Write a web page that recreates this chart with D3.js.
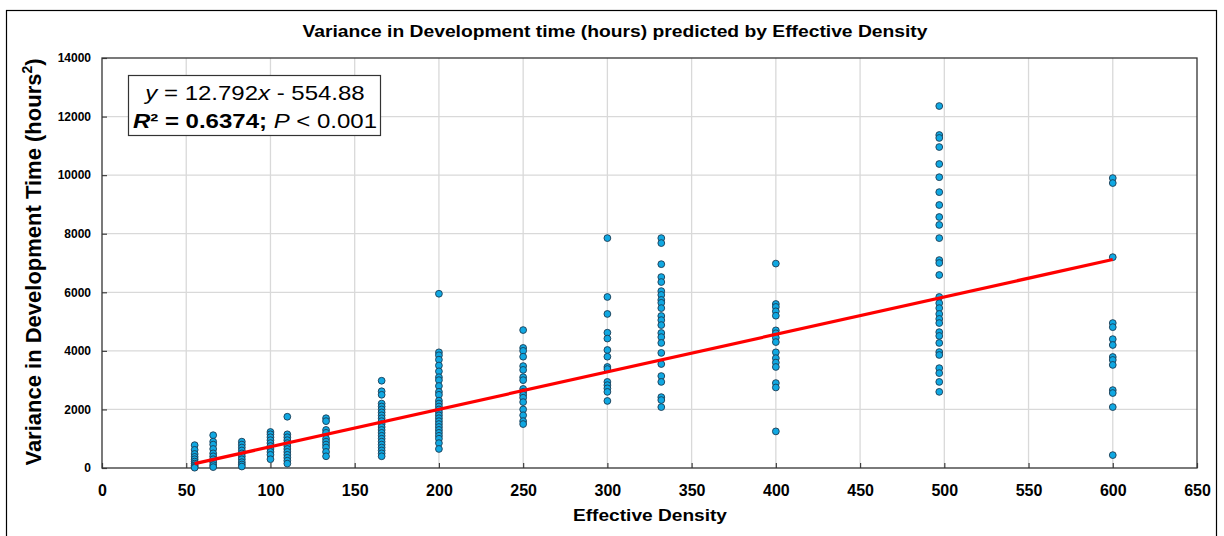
<!DOCTYPE html>
<html>
<head>
<meta charset="utf-8">
<script src="https://cdn.jsdelivr.net/npm/d3@7"></script>
<style>
  html, body { margin: 0; padding: 0; background: #fff; }
  svg { display: block; font-family: "Liberation Sans", Arial, sans-serif; }
</style>
</head>
<body>
<svg id="chart" width="1224" height="536"></svg>
<script>
// ---- Data ----
const densities = [55, 66, 83, 100, 110, 133, 166, 200, 250, 300, 332, 400, 497, 600];
const variances = [
  [780, 620, 480, 380, 300, 220, 150, 90, 40, 10],
  [1120, 900, 800, 650, 500, 400, 300, 200, 100, 30],
  [900, 800, 700, 600, 500, 400, 300, 200, 120, 50],
  [1230, 1150, 1050, 950, 850, 750, 650, 550, 450, 300],
  [1750, 1150, 1050, 950, 850, 750, 650, 550, 450, 350, 250, 150],
  [1700, 1600, 1300, 1200, 1000, 900, 800, 700, 550, 400],
  [2980, 2620, 2500, 2200, 2100, 2000, 1900, 1800, 1700, 1600, 1500, 1400, 1300, 1200, 1100, 1000, 900, 800, 700, 600, 500, 400],
  [5950, 3950, 3850, 3700, 3500, 3300, 3100, 3000, 2800, 2600, 2500, 2300, 2200, 2100, 2000, 1900, 1800, 1700, 1600, 1500, 1400, 1300, 1200, 1100, 1000, 850, 650],
  [4710, 4100, 4000, 3800, 3480, 3350, 3100, 3000, 2700, 2600, 2500, 2400, 2250, 2000, 1800, 1600, 1500],
  [7850, 5840, 5260, 4620, 4420, 4030, 3800, 3450, 3380, 2940, 2830, 2720, 2600, 2290],
  [7850, 7680, 6960, 6520, 6350, 6040, 5910, 5740, 5640, 5460, 5190, 5050, 4880, 4610, 4470, 4270, 3930, 3550, 3140, 2940, 2420, 2320, 2080],
  [6980, 5600, 5500, 5350, 5200, 4700, 4600, 4450, 4300, 3950, 3750, 3600, 3450, 2900, 2750, 1250],
  [12360, 11370, 11270, 10960, 10380, 9930, 9420, 8980, 8570, 8300, 7850, 7100, 7000, 6590, 5840, 5630, 5460, 5260, 5090, 4950, 4640, 4510, 4270, 3960, 3860, 3410, 3240, 2940, 2600],
  [9900, 9730, 7200, 4950, 4810, 4400, 4200, 3790, 3690, 3520, 2660, 2560, 2080, 440]
];
const slope = 12.792;
const intercept = -554.88;
const xTicks = [0, 50, 100, 150, 200, 250, 300, 350, 400, 450, 500, 550, 600, 650];
const yTicks = [0, 2000, 4000, 6000, 8000, 10000, 12000, 14000];
const titleText = "Variance in Development time (hours) predicted by Effective Density";
const xLabel = "Effective Density";

// ---- Layout ----
const svg = d3.select("#chart");
const L = 102, R = 1197, T = 58, B = 468;
const x = d3.scaleLinear().domain([0, 650]).range([L, R]);
const y = d3.scaleLinear().domain([0, 14000]).range([B, T]);

// Outer frame
svg.append("rect").attr("x", 6.5).attr("y", 10.5).attr("width", 1210).attr("height", 540)
  .attr("fill", "none").attr("stroke", "#000").attr("stroke-width", 1.2);

// Gridlines
svg.append("g").selectAll("line").data(xTicks.filter(d => d > 0 && d < 650)).join("line")
  .attr("x1", d => x(d)).attr("x2", d => x(d)).attr("y1", T).attr("y2", B)
  .attr("stroke", "#d9d9d9").attr("stroke-width", 1.3);
svg.append("g").selectAll("line").data(yTicks.filter(d => d > 0 && d < 14000)).join("line")
  .attr("x1", L).attr("x2", R).attr("y1", d => y(d)).attr("y2", d => y(d))
  .attr("stroke", "#d9d9d9").attr("stroke-width", 1.3);

// Axes
const xAxis = d3.axisBottom(x).tickValues(xTicks).tickSize(-5).tickPadding(17).tickFormat(d3.format("d"));
const yAxis = d3.axisLeft(y).tickValues(yTicks).tickSize(-5).tickPadding(11).tickFormat(d3.format("d"));
const gx = svg.append("g").attr("transform", `translate(0,${B})`).call(xAxis);
const gy = svg.append("g").attr("transform", `translate(${L},0)`).call(yAxis);
[gx, gy].forEach(g => {
  g.select(".domain").remove();
  g.selectAll(".tick line").attr("stroke", "#404040").attr("stroke-width", 1.2);
  g.selectAll(".tick text").attr("font-family", "Liberation Sans, Arial, sans-serif")
    .attr("font-weight", "bold").attr("fill", "#000");
});
gx.selectAll(".tick text").attr("font-size", 16);
gy.selectAll(".tick text").attr("font-size", 12);

// Plot border
svg.append("rect").attr("x", L).attr("y", T).attr("width", R - L).attr("height", B - T)
  .attr("fill", "none").attr("stroke", "#333").attr("stroke-width", 1.3);

// Points
const pts = [];
densities.forEach((d, i) => variances[i].forEach(v => pts.push([d, v])));
svg.append("g").selectAll("circle").data(pts).join("circle")
  .attr("cx", d => x(d[0])).attr("cy", d => y(d[1])).attr("r", 3.4)
  .attr("fill", "#10a8e2").attr("stroke", "#1c3b52").attr("stroke-width", 0.9);

// Regression line
const xMin = d3.min(densities), xMax = d3.max(densities);
svg.append("line")
  .attr("x1", x(xMin)).attr("y1", y(slope * xMin + intercept))
  .attr("x2", x(xMax)).attr("y2", y(slope * xMax + intercept))
  .attr("stroke", "#ff0000").attr("stroke-width", 3.2);

// Title
svg.append("text").attr("x", 615).attr("y", 37).attr("text-anchor", "middle")
  .attr("font-size", 16).attr("font-weight", "bold")
  .attr("textLength", 625).attr("lengthAdjust", "spacingAndGlyphs").text(titleText);

// X label
svg.append("text").attr("x", 650).attr("y", 521).attr("text-anchor", "middle")
  .attr("font-size", 17).attr("font-weight", "bold")
  .attr("textLength", 154).attr("lengthAdjust", "spacingAndGlyphs").text(xLabel);

// Y label
const yl = svg.append("text").attr("transform", "translate(41,262) rotate(-90)")
  .attr("text-anchor", "middle").attr("font-size", 22).attr("font-weight", "bold");
yl.append("tspan").text("Variance in Development Time (hours");
yl.append("tspan").attr("font-size", 14).attr("dy", -9).text("2");
yl.append("tspan").attr("dy", 9).text(")");

// Equation box
svg.append("rect").attr("x", 128.5).attr("y", 75.5).attr("width", 252).attr("height", 60)
  .attr("fill", "#fff").attr("stroke", "#333").attr("stroke-width", 1.2);
const eqG = svg.append("g").attr("transform", "translate(255,0) scale(1.2,1)");
const eq1 = eqG.append("text").attr("x", 0).attr("y", 100).attr("text-anchor", "middle").attr("font-size", 20);
eq1.append("tspan").attr("font-style", "italic").text("y");
eq1.append("tspan").text(` = ${slope}`);
eq1.append("tspan").attr("font-style", "italic").text("x");
eq1.append("tspan").text(` - ${Math.abs(intercept)}`);
const eq2 = eqG.append("text").attr("x", 0).attr("y", 128).attr("text-anchor", "middle").attr("font-size", 20);
eq2.append("tspan").attr("font-style", "italic").attr("font-weight", "bold").text("R");
eq2.append("tspan").attr("font-weight", "bold").text("² = 0.6374;");
eq2.append("tspan").text(" ");
eq2.append("tspan").attr("font-style", "italic").text("P");
eq2.append("tspan").text(" < 0.001");
</script>
</body>
</html>
